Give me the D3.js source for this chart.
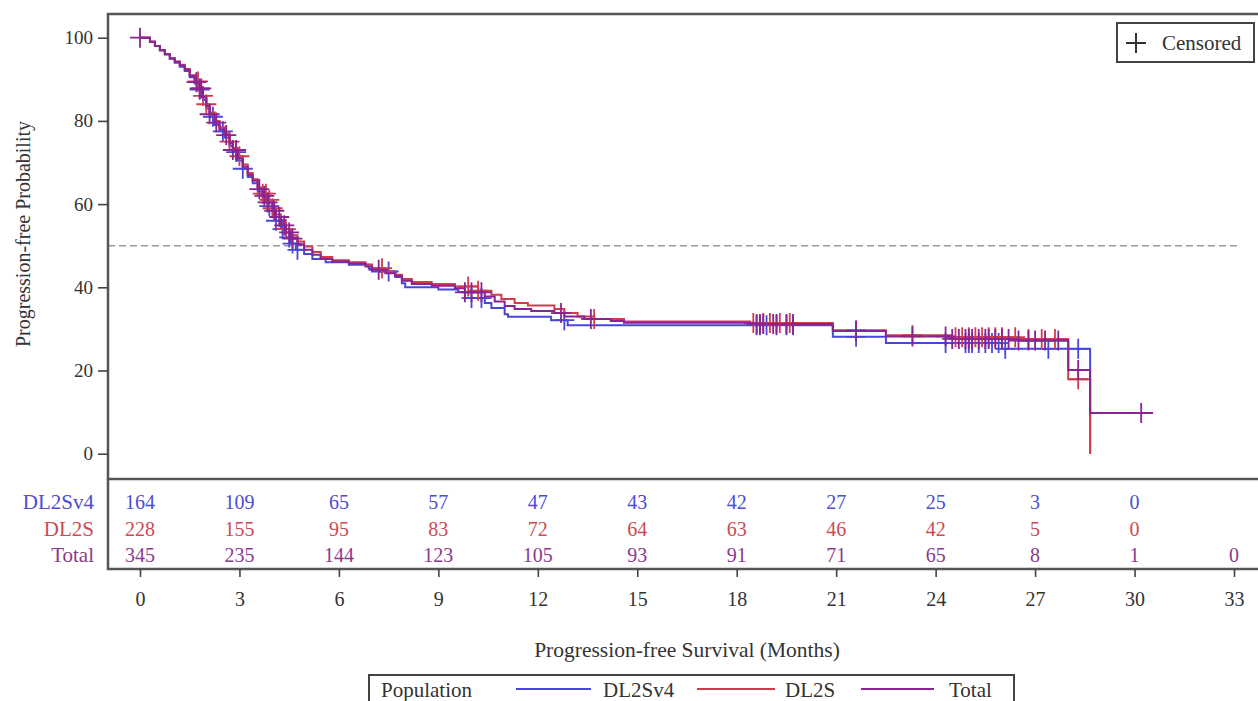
<!DOCTYPE html>
<html>
<head>
<meta charset="utf-8">
<script src="https://cdn.jsdelivr.net/npm/d3@7"></script>
<style>
  html, body { margin: 0; padding: 0; background: #fff; }
  svg { display: block; }
  text { font-family: "Liberation Serif", "Times New Roman", serif; fill: #333; }
</style>
</head>
<body>
<svg id="chart" width="1258" height="701"></svg>
<script>
// Kaplan-Meier step points: [month, progression-free %]
const stepsDL2Sv4 = [
  [0,100],[0.3,99],[0.45,98],[0.6,97],[0.75,96],[0.9,95],[1.05,94],[1.2,93],[1.35,92],
  [1.5,90.5],[1.65,89],[1.8,87.5],[1.9,85],[2.0,83],[2.1,81],[2.25,79],[2.4,77.5],[2.55,76],
  [2.7,74],[2.8,72.5],[2.95,70.5],[3.1,68.5],[3.25,66.5],[3.4,65],[3.55,63],[3.7,61.5],
  [3.85,59.5],[4.0,57.5],[4.1,56],[4.25,54],[4.4,52],[4.55,50.5],[4.7,49],[4.95,48],
  [5.2,46.8],[5.6,46],[6.3,45.4],[6.9,44.5],[7.0,43.8],[7.7,42.5],[7.9,41],[8.0,40],
  [9.0,39.5],[9.6,38.9],[9.8,37.4],[10.4,36.2],[10.6,35],[11.0,33.5],[11.1,32.9],
  [12.4,32.1],[12.9,30.9],[20.9,28.1],[22.5,26.6],[26.0,25.2],[28.66,0]
];
const stepsDL2S = [
  [0,100],[0.3,99],[0.45,98],[0.6,97],[0.75,96],[0.9,95],[1.05,94.3],[1.2,93.5],[1.35,92.5],
  [1.5,91],[1.65,89.5],[1.8,88],[1.9,86],[2.0,84],[2.1,82],[2.25,80],[2.4,78.5],[2.55,77],
  [2.7,75],[2.8,73.5],[2.95,71.5],[3.1,69.5],[3.25,67.5],[3.4,66],[3.55,64],[3.7,62.5],
  [3.85,61],[4.0,59],[4.1,57.5],[4.25,55.5],[4.4,54],[4.55,52.5],[4.75,51],[4.95,49.8],
  [5.2,48.5],[5.45,47.3],[5.8,46.5],[6.3,46],[6.8,45.5],[7.0,44.6],[7.4,43.8],[7.7,43],
  [7.9,42],[8.2,41.3],[8.8,40.8],[9.5,40.2],[10.2,39.2],[10.6,38.2],[10.9,37.2],[11.3,36.2],
  [11.7,35.6],[12.5,34.8],[12.8,33.8],[13.2,33],[13.7,32.4],[14.6,31.8],[18.4,31.4],
  [20.9,29.7],[22.5,28.5],[24.5,28],[26.5,27.6],[28.0,17.9],[28.66,0]
];
const stepsTotal = [
  [0,100],[0.3,99],[0.45,98],[0.6,97],[0.75,96],[0.9,95],[1.05,94.2],[1.2,93.3],[1.35,92.3],
  [1.5,90.8],[1.65,89.3],[1.8,87.8],[1.9,85.6],[2.0,83.6],[2.1,81.6],[2.25,79.6],[2.4,78],
  [2.55,76.6],[2.7,74.6],[2.8,73],[2.95,71],[3.1,69],[3.25,67],[3.4,65.6],[3.55,63.6],
  [3.7,62],[3.85,60.4],[4.0,58.4],[4.1,56.9],[4.25,54.9],[4.4,53.2],[4.55,51.7],[4.75,50.2],
  [4.95,49],[5.2,47.8],[5.45,46.8],[5.8,46.2],[6.3,45.7],[6.8,45],[7.0,44.2],[7.4,43.4],
  [7.7,42.7],[7.9,41.6],[8.2,40.8],[8.8,40.4],[9.5,39.8],[9.8,38.8],[10.4,37.8],[10.7,36.6],
  [11.0,35.5],[11.3,34.8],[11.8,34.3],[12.5,33.8],[12.8,33],[13.4,32.4],[14.2,31.9],
  [14.6,31.5],[18.5,31.2],[20.9,29.5],[22.5,28.2],[24.5,27.6],[26.5,27.2],[28.0,20.1],
  [28.66,9.8],[30.56,9.8]
];

// Censoring times (months)
const censorDL2Sv4 = [1.8,2.2,2.5,2.9,3.1,3.9,4.1,4.3,4.5,4.6,4.75,7.5,10.0,10.3,12.8,
  18.6,18.7,18.9,19.2,19.5,19.7,21.6,24.3,24.9,25.0,25.1,25.3,25.5,25.7,25.9,26.1,27.4,28.3];
const censorDL2S = [1.75,1.9,2.0,2.7,3.0,3.7,3.8,3.9,4.0,4.4,7.3,9.9,10.2,13.7,
  18.5,18.8,19.0,19.3,19.6,21.6,23.3,24.6,24.8,25.0,25.2,25.4,25.6,25.8,26.0,26.4,26.8,27.2,27.6,28.3];
const censorTotal = [0.0,1.7,1.8,1.85,2.1,2.3,2.6,2.8,2.9,3.6,3.75,3.85,4.05,4.2,4.35,4.5,4.6,
  7.2,9.8,10.0,10.3,12.7,13.6,18.6,18.7,18.8,19.1,19.2,19.5,19.7,21.6,23.3,24.3,24.5,24.7,24.9,
  25.0,25.1,25.3,25.5,25.6,25.8,26.0,26.2,26.5,26.8,27.0,27.3,27.7,28.3,30.2];

// Number at risk table
const riskMonths = [0,3,6,9,12,15,18,21,24,27,30,33];
const atRiskDL2Sv4 = [164,109,65,57,47,43,42,27,25,3,0];
const atRiskDL2S = [228,155,95,83,72,64,63,46,42,5,0];
const atRiskTotal = [345,235,144,123,105,93,91,71,65,8,1,0];

const yTicks = [0,20,40,60,80,100];
const groupNames = ["DL2Sv4","DL2S","Total"];
const groupColors = ["#4747dc","#d03c4c","#8a2490"];
const riskTextColors = ["#4d4dd6","#cc4a55","#8a3a8e"];

const svg = d3.select("#chart");
const frame = {left: 108, top: 14, right: 1262, bottom: 479, tableBottom: 569};

const x = d3.scaleLinear().domain([0,33]).range([140,1234]);
const y = d3.scaleLinear().domain([0,100]).range([453.7,37.7]);

// reference line at median
svg.append("line")
  .attr("x1", frame.left).attr("x2", 1240)
  .attr("y1", y(50)).attr("y2", y(50))
  .attr("stroke", "#9a9a9a").attr("stroke-width", 1.6)
  .attr("stroke-dasharray", "7,4");

// step curves + censor marks
const line = d3.line().curve(d3.curveStepAfter).x(d => x(d[0])).y(d => y(d[1]));
function survAt(steps, t) {
  let v = steps[0][1];
  for (const s of steps) { if (s[0] <= t) v = s[1]; else break; }
  return v;
}
const series = [
  {steps: stepsDL2Sv4, cens: censorDL2Sv4},
  {steps: stepsDL2S, cens: censorDL2S},
  {steps: stepsTotal, cens: censorTotal}
];
series.forEach((s, i) => {
  const g = svg.append("g");
  g.append("path").datum(s.steps)
    .attr("d", line).attr("fill", "none")
    .attr("stroke", groupColors[i]).attr("stroke-width", 2);
  g.selectAll("path.cens").data(s.cens).join("path")
    .attr("class", "cens")
    .attr("transform", t => `translate(${x(t)},${y(survAt(s.steps, t))})`)
    .attr("d", "M-10,0H10M0,-10V10")
    .attr("stroke", groupColors[i]).attr("stroke-width", 1.8).attr("fill", "none");
});

// frame of the plot panel and at-risk table
svg.append("rect")
  .attr("x", frame.left).attr("y", frame.top)
  .attr("width", frame.right - frame.left).attr("height", frame.bottom - frame.top)
  .attr("fill", "none").attr("stroke", "#555").attr("stroke-width", 2.5);
svg.append("path")
  .attr("d", `M${frame.left},${frame.bottom}V${frame.tableBottom}H${frame.right}`)
  .attr("fill", "none").attr("stroke", "#555").attr("stroke-width", 2.5);

// y axis
const yAxis = svg.append("g")
  .attr("transform", `translate(${frame.left},0)`)
  .call(d3.axisLeft(y).tickValues(yTicks).tickSize(10).tickPadding(5));
yAxis.select(".domain").remove();
yAxis.selectAll(".tick line").attr("stroke", "#444").attr("stroke-width", 1.6);
yAxis.selectAll(".tick text").style("font-size", "19px").attr("fill", "#3a3a3a")
  .style("font-family", '"Liberation Serif", serif');

svg.append("text")
  .attr("transform", `translate(30,234) rotate(-90)`)
  .attr("text-anchor", "middle")
  .style("font-size", "20px")
  .text("Progression-free Probability");

// x axis under the at-risk table
const xAxis = svg.append("g")
  .attr("transform", `translate(0,${frame.tableBottom})`)
  .call(d3.axisBottom(x).tickValues(riskMonths).tickSize(8).tickPadding(15));
xAxis.select(".domain").remove();
xAxis.selectAll(".tick line").attr("stroke", "#444").attr("stroke-width", 1.6);
xAxis.selectAll(".tick text").style("font-size", "20px").attr("fill", "#3a3a3a")
  .style("font-family", '"Liberation Serif", serif');

svg.append("text")
  .attr("x", 687).attr("y", 657)
  .attr("text-anchor", "middle")
  .style("font-size", "21.5px")
  .text("Progression-free Survival (Months)");

// number at risk rows
const riskRows = [atRiskDL2Sv4, atRiskDL2S, atRiskTotal];
const rowY = [502, 528.5, 555];
riskRows.forEach((vals, i) => {
  svg.append("text")
    .attr("x", 94).attr("y", rowY[i]).attr("dy", "0.35em")
    .attr("text-anchor", "end")
    .style("font-size", "21px").style("fill", riskTextColors[i])
    .text(groupNames[i]);
  svg.selectAll(null).data(vals).join("text")
    .attr("x", (d, j) => x(riskMonths[j])).attr("y", rowY[i]).attr("dy", "0.35em")
    .attr("text-anchor", "middle")
    .style("font-size", "20px").style("fill", riskTextColors[i])
    .text(d => d);
});

// censored legend
const cl = svg.append("g");
cl.append("rect").attr("x", 1117).attr("y", 23).attr("width", 137).attr("height", 39)
  .attr("fill", "#fff").attr("stroke", "#444").attr("stroke-width", 2);
cl.append("path").attr("d", "M1126,43H1146M1136,33V53")
  .attr("stroke", "#333").attr("stroke-width", 2).attr("fill", "none");
cl.append("text").attr("x", 1162).attr("y", 43).attr("dy", "0.35em")
  .style("font-size", "21px").text("Censored");

// population legend
const pl = svg.append("g");
pl.append("rect").attr("x", 369).attr("y", 675).attr("width", 645).attr("height", 40)
  .attr("fill", "#fff").attr("stroke", "#444").attr("stroke-width", 2);
pl.append("text").attr("x", 381).attr("y", 690).attr("dy", "0.35em")
  .style("font-size", "21px").text("Population");
const legendItems = [
  {x1: 516, x2: 591, tx: 603},
  {x1: 697, x2: 775, tx: 785},
  {x1: 861, x2: 934, tx: 949}
];
legendItems.forEach((it, i) => {
  pl.append("line").attr("x1", it.x1).attr("x2", it.x2).attr("y1", 689).attr("y2", 689)
    .attr("stroke", groupColors[i]).attr("stroke-width", 2);
  pl.append("text").attr("x", it.tx).attr("y", 690).attr("dy", "0.35em")
    .style("font-size", "21px").text(groupNames[i]);
});
</script>
</body>
</html>
